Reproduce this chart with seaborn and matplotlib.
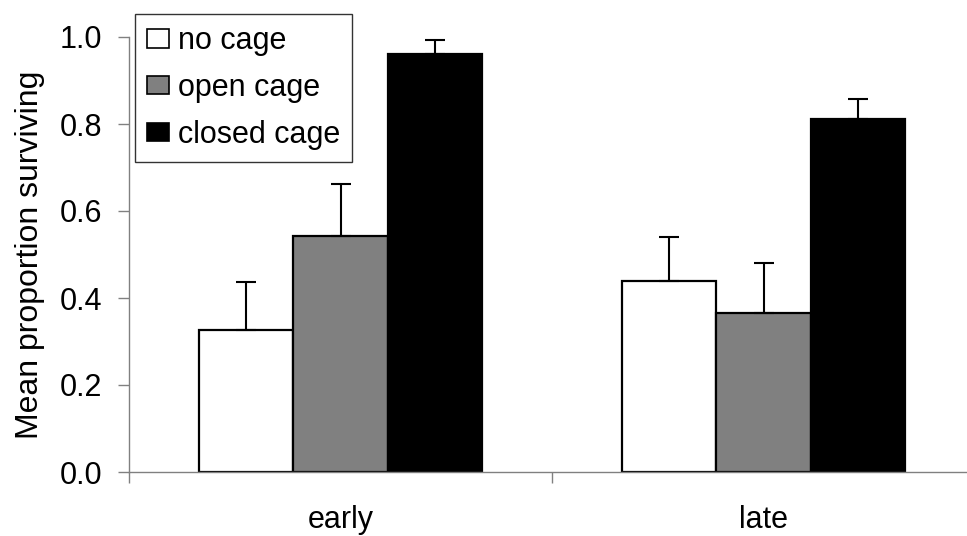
import numpy as np
import pandas as pd
import matplotlib
matplotlib.use('Agg')
import matplotlib.pyplot as plt
import seaborn as sns

# ── Data ──────────────────────────────────────────────────────────
timing = ["early", "late"]
treatments = ["no cage", "open cage", "closed cage"]
mean_surv = {
    "no cage": [0.327, 0.440],
    "open cage": [0.543, 0.366],
    "closed cage": [0.962, 0.812],
}
se_surv = {
    "no cage": [0.110, 0.100],
    "open cage": [0.120, 0.115],
    "closed cage": [0.032, 0.046],
}
bar_colors = ["#ffffff", "#808080", "#000000"]

rows = []
for t in treatments:
    for i, g in enumerate(timing):
        rows.append({"timing": g, "treatment": t,
                     "mean": mean_surv[t][i], "se": se_surv[t][i]})
df = pd.DataFrame(rows)

# ── Plot ──────────────────────────────────────────────────────────
sns.set_style("white")
plt.rcParams['font.family'] = ['Liberation Sans', 'DejaVu Sans']
plt.rcParams['text.color'] = 'black'
plt.rcParams['xtick.color'] = 'black'
plt.rcParams['ytick.color'] = 'black'
plt.rcParams['axes.labelcolor'] = 'black'

W, H = 967, 536
fig = plt.figure(figsize=(W / 100, H / 100), dpi=100)
ax = fig.add_axes([129 / W, 1 - 472 / H, 846 / W, 435 / H])

sns.barplot(data=df, x="timing", y="mean", hue="treatment",
            order=timing, hue_order=treatments, palette=bar_colors,
            errorbar=None, width=0.667, edgecolor="black", linewidth=1.6,
            saturation=1, ax=ax)

# one-sided error bars on top of each bar
for cont, t in zip(ax.containers, treatments):
    xs = [p.get_x() + p.get_width() / 2 for p in cont.patches]
    hs = [p.get_height() for p in cont.patches]
    err = np.array(se_surv[t])
    ax.errorbar(xs, hs, yerr=[np.zeros_like(err), err], fmt="none",
                ecolor="black", elinewidth=1.5, capsize=7, capthick=1.5,
                zorder=1)

ax.set_xlim(-0.5, 1.5)
ax.set_ylim(0, 1.0)
yt = np.arange(0, 1.01, 0.2)
ax.set_yticks(yt)
ax.set_yticklabels([f"{v:.1f}" for v in yt])
ax.set_xticks([-0.5, 0.5, 1.5], minor=True)
ax.tick_params(axis="x", which="minor", length=8, width=1, color="#808080",
               direction="out", bottom=True)
ax.tick_params(axis="x", which="major", length=0, labelsize=22, pad=24)
ax.tick_params(axis="y", length=8, width=1, color="#808080",
               direction="out", left=True, labelsize=22, pad=11)
ax.set_xlabel("")
ax.set_ylabel("Mean proportion surviving", fontsize=23, labelpad=11)

for side in ["top", "right"]:
    ax.spines[side].set_visible(False)
for side in ["left", "bottom"]:
    ax.spines[side].set_color("#808080")
    ax.spines[side].set_linewidth(1)

leg = ax.legend(loc="upper left", bbox_to_anchor=(135 / W, 1 - 14 / H),
                bbox_transform=fig.transFigure, fontsize=22,
                frameon=True, fancybox=False, edgecolor="black",
                handlelength=0.7, handleheight=0.55, handletextpad=0.3,
                borderpad=0.4, labelspacing=0.55, borderaxespad=0)
leg.get_frame().set_linewidth(1)
for h in leg.legend_handles:
    h.set_linewidth(1.2)

fig.savefig("out.png", dpi=100)
